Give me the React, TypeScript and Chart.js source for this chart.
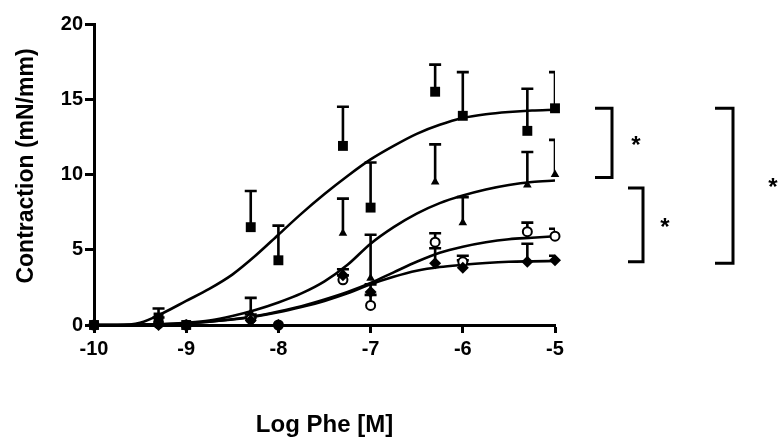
import React, { useEffect, useRef } from 'react';
import { Chart, registerables } from 'chart.js';

Chart.register(...registerables);

// ---- data ----
const xValues = [-10, -9.3, -9, -8.3, -8, -7.3, -7, -6.3, -6, -5.3, -5];

const squareMeans = [0, 0.5, 0, 6.5, 4.3, 11.9, 7.8, 15.5, 13.9, 12.9, 14.4];
const squareErrs = [0, 0.6, 0, 2.4, 2.3, 2.6, 3.0, 1.8, 2.9, 2.8, 2.4];

const triangleMeans = [0, 0.2, 0, 0.8, 0, 6.1, 3.1, 9.5, 6.8, 9.3, 10.0];
const triangleErrs = [0, 0.3, 0, 1.0, 0, 2.3, 2.9, 2.5, 1.7, 2.2, 2.3];

const circleMeans = [0, 0.1, 0, 0.4, 0, 3.0, 1.3, 5.5, 4.2, 6.2, 5.9];
const circleErrs = [0, 0, 0, 0.3, 0, 0.3, 0.7, 0.6, 0.4, 0.6, 0.5];

const diamondMeans = [0, 0, 0, 0.3, 0, 3.3, 2.2, 4.1, 3.8, 4.2, 4.3];
const diamondErrs = [0, 0, 0, 0.2, 0, 0.4, 0.5, 1.0, 0.5, 1.2, 0.3];

// fitted curves
const curveX = [-10, -9.75, -9.5, -9.25, -9, -8.75, -8.5, -8.25, -8, -7.75, -7.5, -7.25, -7, -6.75, -6.5, -6.25, -6, -5.75, -5.5, -5.25, -5];
const squareCurve = [0, 0, 0.15, 0.8, 1.6, 2.4, 3.35, 4.6, 6.0, 7.4, 8.7, 9.9, 11.0, 11.9, 12.7, 13.3, 13.75, 14.0, 14.15, 14.25, 14.3];
const triangleCurve = [0, 0, 0.02, 0.06, 0.15, 0.3, 0.6, 1.0, 1.5, 2.1, 2.9, 4.0, 5.4, 6.5, 7.4, 8.1, 8.6, 9.0, 9.3, 9.5, 9.6];
const circleCurve = [0, 0, 0.02, 0.05, 0.12, 0.22, 0.38, 0.6, 0.9, 1.25, 1.7, 2.2, 2.8, 3.5, 4.2, 4.8, 5.2, 5.5, 5.7, 5.8, 5.9];
const diamondCurve = [0, 0, 0.02, 0.05, 0.12, 0.22, 0.36, 0.57, 0.85, 1.2, 1.6, 2.1, 2.7, 3.2, 3.6, 3.85, 4.0, 4.12, 4.2, 4.23, 4.25];

const xTicks = [-10, -9, -8, -7, -6, -5];
const yTicks = [0, 5, 10, 15, 20];

const bracketTop = [14.4, 9.1, 14.4];
const bracketBottom = [9.8, 4.2, 4.1];
const bracketLabels = ['*', '*', '*'];

const xTitle = 'Log Phe [M]';
const yTitle = 'Contraction (mN/mm)';

const FONT = '"Liberation Sans", Arial, Helvetica, sans-serif';

export default function App() {
  const ref = useRef<HTMLCanvasElement | null>(null);

  useEffect(() => {
    const canvas = ref.current;
    if (!canvas) return;

    const seriesList = [
      { means: squareMeans, errs: squareErrs, curve: squareCurve, style: 'rect', radius: 7, bg: '#000', bw: 0, order: 1 },
      { means: triangleMeans, errs: triangleErrs, curve: triangleCurve, style: 'triangle', radius: 5, bg: '#000', bw: 0, order: 1 },
      { means: circleMeans, errs: circleErrs, curve: circleCurve, style: 'circle', radius: 4.5, bg: '#fff', bw: 2, order: 1 },
      { means: diamondMeans, errs: diamondErrs, curve: diamondCurve, style: 'rectRot', radius: 6, bg: '#000', bw: 0, order: 0 },
    ];

    const datasets: any[] = [];
    seriesList.forEach((s, k) => {
      datasets.push({
        label: 'fit' + k,
        data: curveX.map((x, i) => ({ x, y: s.curve[i] })),
        showLine: true,
        borderColor: '#000',
        borderWidth: 2.6,
        pointRadius: 0,
        cubicInterpolationMode: 'monotone',
        order: 2,
      });
    });
    seriesList.forEach((s, k) => {
      datasets.push({
        label: 'pts' + k,
        data: xValues.map((x, i) => ({ x, y: s.means[i] })),
        showLine: false,
        pointStyle: s.style,
        pointRadius: s.radius,
        backgroundColor: s.bg,
        borderColor: '#000',
        borderWidth: s.bw,
        clip: false,
        order: s.order,
      });
    });

    const errorBars = {
      id: 'errorBars',
      beforeDatasetsDraw(chart: any) {
        const { ctx, chartArea, scales } = chart;
        const xs = scales.x, ys = scales.y;
        ctx.save();
        ctx.beginPath();
        ctx.rect(chartArea.left - 20, 0, chartArea.right - chartArea.left + 20, chart.height);
        ctx.clip();
        ctx.strokeStyle = '#000';
        ctx.lineWidth = 2.6;
        seriesList.forEach((s) => {
          xValues.forEach((xv, i) => {
            const e = s.errs[i];
            if (!e) return;
            const px = xs.getPixelForValue(xv);
            const p0 = ys.getPixelForValue(s.means[i]);
            const p1 = ys.getPixelForValue(s.means[i] + e);
            ctx.beginPath();
            ctx.moveTo(px, p0);
            ctx.lineTo(px, p1);
            ctx.moveTo(px - 6, p1);
            ctx.lineTo(px + 6, p1);
            ctx.stroke();
          });
        });
        ctx.restore();
      },
    };

    const extras = {
      id: 'extras',
      afterDraw(chart: any) {
        const { ctx, chartArea, scales } = chart;
        const ys = scales.y;
        const R = chartArea.right;
        ctx.save();
        ctx.strokeStyle = '#000';
        ctx.fillStyle = '#000';
        ctx.lineWidth = 3;
        const geo = [
          { x0: 40, x1: 57, sx: 81 },
          { x0: 73, x1: 88, sx: 110 },
          { x0: 160, x1: 178, sx: 218 },
        ];
        ctx.font = 'bold 24px ' + FONT;
        ctx.textAlign = 'center';
        ctx.textBaseline = 'middle';
        bracketTop.forEach((t, i) => {
          const g = geo[i];
          const yt = ys.getPixelForValue(t);
          const yb = ys.getPixelForValue(bracketBottom[i]);
          ctx.beginPath();
          ctx.moveTo(R + g.x0, yt);
          ctx.lineTo(R + g.x1, yt);
          ctx.lineTo(R + g.x1, yb);
          ctx.lineTo(R + g.x0, yb);
          ctx.stroke();
          ctx.fillText(bracketLabels[i], R + g.sx, (yt + yb) / 2 + 3);
        });

        // axis titles
        ctx.font = 'bold 24px ' + FONT;
        ctx.textAlign = 'center';
        ctx.textBaseline = 'alphabetic';
        ctx.fillText(xTitle, (chartArea.left + chartArea.right) / 2, 432);
        ctx.translate(33, 166);
        ctx.rotate(-Math.PI / 2);
        ctx.font = 'bold 23px ' + FONT;
        ctx.fillText(yTitle, 0, 0);
        ctx.restore();
      },
    };

    const tickFont = { family: FONT, size: 20, weight: 'bold' as const };

    const chart = new Chart(canvas, {
      type: 'scatter',
      data: { datasets },
      plugins: [errorBars, extras],
      options: {
        animation: false,
        responsive: false,
        devicePixelRatio: 1,
        layout: { padding: { top: 24, right: 228, left: 0, bottom: 0 } },
        plugins: { legend: { display: false }, tooltip: { enabled: false } },
        scales: {
          x: {
            type: 'linear',
            min: -10,
            max: -5,
            afterBuildTicks: (sc: any) => { sc.ticks = xTicks.map((v) => ({ value: v })); },
            afterFit: (sc: any) => { sc.height = 116; },
            ticks: { color: '#000', font: tickFont, padding: 4, callback: (v: any) => String(v) },
            grid: { drawOnChartArea: false, drawTicks: true, tickLength: 8, tickWidth: 3, color: '#000' },
            border: { display: true, width: 3, color: '#000' },
          },
          y: {
            type: 'linear',
            min: 0,
            max: 20,
            afterBuildTicks: (sc: any) => { sc.ticks = yTicks.map((v) => ({ value: v })); },
            afterFit: (sc: any) => { sc.width = 94; },
            ticks: { color: '#000', font: tickFont, padding: 2, callback: (v: any) => String(v) },
            grid: { drawOnChartArea: false, drawTicks: true, tickLength: 9, tickWidth: 3, color: '#000' },
            border: { display: true, width: 3, color: '#000' },
          },
        },
      },
    } as any);

    return () => chart.destroy();
  }, []);

  return (
    <div style={{ position: 'fixed', left: 0, top: 0, width: 783, height: 441, background: '#fff' }}>
      <canvas ref={ref} width={783} height={441} style={{ display: 'block' }} />
    </div>
  );
}
